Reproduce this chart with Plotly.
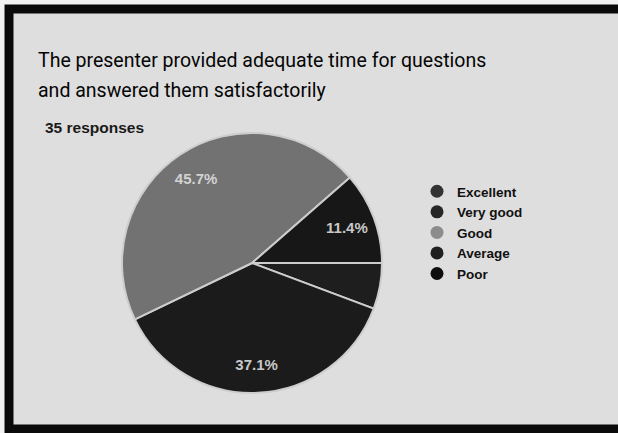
import plotly.graph_objects as go

W, H = 618, 433

title_lines = ["The presenter provided adequate time for questions",
               "and answered them satisfactorily"]
responses_text = "35 responses"
categories = ["Excellent", "Very good", "Good", "Average", "Poor"]
counts = [2, 13, 16, 4, 0]
slice_colors = ["#1e1e1e", "#1b1b1b", "#727272", "#171717", "#0c0c0c"]
legend_colors = ["#333333", "#262626", "#8c8c8c", "#202020", "#0e0e0e"]

total = sum(counts)
labels_txt = [f"{c / total * 100:.1f}%" if c / total >= 0.08 else "" for c in counts]
label_colors = ["#c8c8c8", "#c8c8c8", "#d2d2d2", "#c8c8c8", "#c8c8c8"]


def px(x):
    return x / W


def py(y):
    return 1 - y / H


pie_domain = dict(x=[px(122), px(382)], y=[py(393), py(133)])

fig = go.Figure()

# the slices
fig.add_trace(go.Pie(
    labels=categories,
    values=counts,
    sort=False,
    direction="clockwise",
    rotation=90,
    marker=dict(colors=slice_colors, line=dict(color="#cdcdcd", width=2)),
    textinfo="none",
    domain=pie_domain,
    showlegend=False,
    hoverinfo="label+percent",
))

# transparent ring carrying the percentage labels (places them further out)
fig.add_trace(go.Pie(
    labels=categories,
    values=counts,
    sort=False,
    direction="clockwise",
    rotation=90,
    hole=0.56,
    marker=dict(colors=["rgba(0,0,0,0)"] * len(counts), line=dict(width=0)),
    text=labels_txt,
    textinfo="text",
    textposition="inside",
    insidetextorientation="horizontal",
    textfont=dict(family="Arial, Liberation Sans", size=15, color=label_colors, weight="bold"),
    domain=pie_domain,
    showlegend=False,
    hoverinfo="skip",
))

for name, col in zip(categories, legend_colors):
    fig.add_trace(go.Scatter(
        x=[None], y=[None], mode="markers", name=name,
        marker=dict(symbol="circle", size=13, color=col),
        showlegend=True,
    ))

for line, top in zip(title_lines, [47, 77]):
    fig.add_annotation(
        text=line, x=px(36), y=py(top), xref="paper", yref="paper",
        xanchor="left", yanchor="top", align="left", showarrow=False,
        font=dict(family="Roboto, Arial", size=19.5, color="#050505"),
    )
fig.add_annotation(
    text=responses_text, x=px(43), y=py(117), xref="paper", yref="paper",
    xanchor="left", yanchor="top", align="left", showarrow=False,
    font=dict(family="Arial, Liberation Sans", size=15.5, color="#1a1a1a", weight="bold"),
)

fig.add_shape(
    type="rect", xref="paper", yref="paper",
    x0=px(9), x1=px(640), y0=py(429), y1=py(9),
    line=dict(color="#0a0a0a", width=9), fillcolor="#dedede", layer="below",
)

fig.update_layout(
    width=W, height=H,
    margin=dict(l=0, r=0, t=0, b=0),
    paper_bgcolor="#f2f2f2",
    plot_bgcolor="rgba(0,0,0,0)",
    xaxis=dict(visible=False),
    yaxis=dict(visible=False),
    legend=dict(
        x=px(417), y=py(176), xanchor="left", yanchor="top",
        font=dict(family="Arial, Liberation Sans", size=13.5, color="#111111", weight="bold"),
        bgcolor="rgba(0,0,0,0)", itemwidth=30,
    ),
    showlegend=True,
)

fig.write_html(
    "out.html",
    config={"displayModeBar": False},
    post_script="document.body.style.margin='0';document.body.style.overflow='hidden';",
)
